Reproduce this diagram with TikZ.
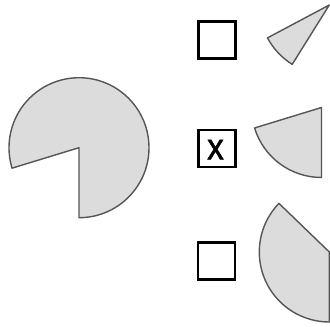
\documentclass[tikz,border=0pt]{standalone}
\usepackage{fontspec}
\setmainfont{Liberation Sans}
\newfontfamily\markfont[FakeBold=1.6]{Liberation Sans}
\definecolor{piefill}{HTML}{DCDCDC}
\definecolor{piestroke}{HTML}{555555}
\begin{document}
\begin{tikzpicture}[x=1pt,y=1pt,
  piece/.style={fill=piefill,draw=piestroke,line width=1.4pt,line join=round},
  checkbox/.style={draw=black,line width=2.4pt,minimum width=37pt,minimum height=37pt,inner sep=0pt}]
\useasboundingbox (0,0) rectangle (330,327);
% main pie with missing wedge
\coordinate (mc) at (79,179.3);
\draw[piece] (mc) -- ++(270:70) arc[start angle=270,end angle=557,radius=70] -- cycle;
% candidate pieces
\coordinate (tc) at (329.3,322);
\draw[piece] (tc) -- ++(208:70) arc[start angle=208,end angle=238,radius=70] -- cycle;
\coordinate (cc) at (321.5,219.5);
\draw[piece] (cc) -- ++(197:70) arc[start angle=197,end angle=270,radius=70] -- cycle;
\coordinate (bc) at (329.3,75);
\draw[piece] (bc) -- ++(136:70) arc[start angle=136,end angle=270,radius=70] -- cycle;
% check boxes
\node[checkbox] (box1) at (217,286.8) {};
\node[checkbox] (box2) at (217,178.3) {};
\node[font=\markfont\fontsize{37}{37}\selectfont,inner sep=0pt] (mark) at (215.5,177.4) {\scalebox{0.9}[1]{x}};
\node[checkbox] (box3) at (216.7,66) {};
\end{tikzpicture}
\end{document}
